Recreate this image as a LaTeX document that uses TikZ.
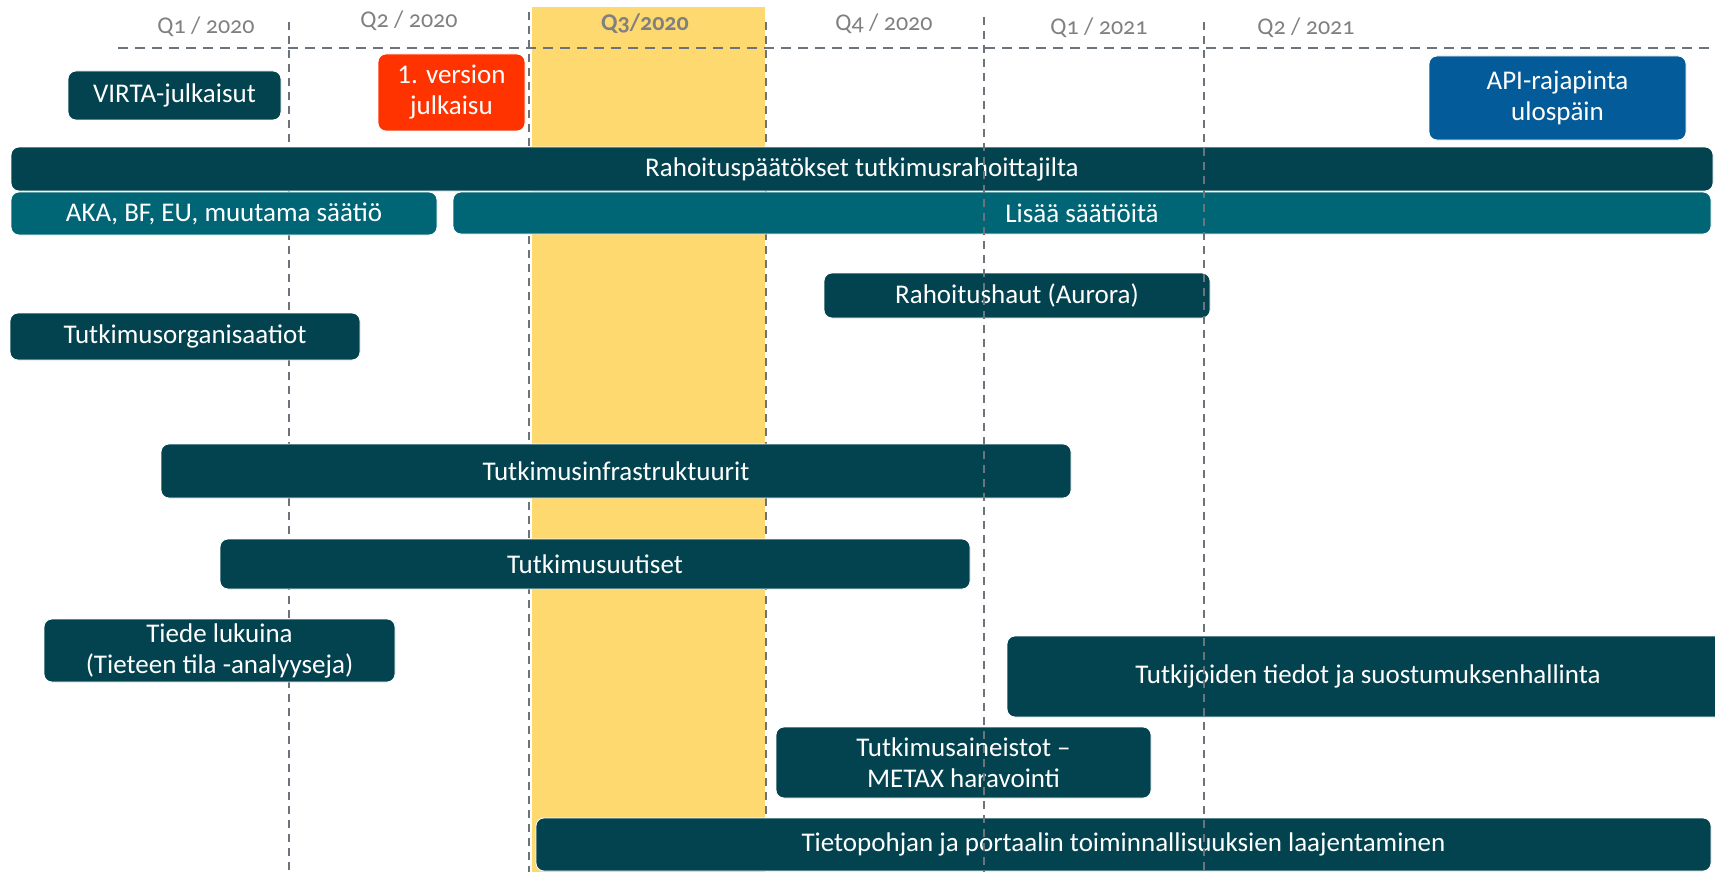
\documentclass[tikz,border=0pt]{standalone}
\usepackage{fontspec}
\setmainfont{Carlito}
\newfontfamily\qlabelfont[Numbers=OldStyle]{Carlito}
\newcommand\boxtxt{\fontsize{27}{31}\selectfont}
\newcommand\qtxt{\qlabelfont\fontsize{24}{28}\selectfont}
\definecolor{darkteal}{HTML}{02434F}
\definecolor{midteal}{HTML}{006676}
\definecolor{apiblue}{HTML}{045B99}
\definecolor{relred}{HTML}{FF3300}
\definecolor{bandyellow}{HTML}{FDD96F}
\definecolor{gridgray}{HTML}{6C737A}
\definecolor{qgray}{HTML}{808080}
\begin{document}
\begin{tikzpicture}[x=1pt,y=-1pt,
  bx/.style={rounded corners=8pt, draw=white, line width=0.8pt, text=white,
    font=\boxtxt, align=center, inner sep=0pt, anchor=center},
  vgrid/.style={draw=gridgray, line width=1.5pt, dash pattern=on 8pt off 6pt},
  hgrid/.style={draw=gridgray, line width=2.2pt, dash pattern=on 10pt off 7pt},
  qlab/.style={text=qgray, font=\qtxt, anchor=base, inner sep=0pt}]
\useasboundingbox (0,0) rectangle (1715,872);
\clip (0,0) rectangle (1715,872);
% highlight band
\fill[bandyellow] (532,7) rectangle (765,872);
% grid (behind boxes)
\draw[hgrid] (118,48) -- (1715,48);
\draw[vgrid] (289,22) -- (289,872);
\draw[vgrid] (529,12) -- (529,872);
\draw[vgrid] (766,22) -- (766,872);
% quarter labels
\node[qlab] (q1a) at (206,34) {Q1 / 2020};
\node[qlab] (q2a) at (409,28) {Q2 / 2020};
\node[qlab, font=\qtxt\bfseries] (q3a) at (645,31) {Q3/2020};
\node[qlab] (q4a) at (884,31) {Q4 / 2020};
\node[qlab] (q1b) at (1099,35) {Q1 / 2021};
\node[qlab] (q2b) at (1306,35) {Q2 / 2021};
% boxes
\node[bx, fill=darkteal, minimum width=213pt, minimum height=49pt] (virta) at (174.5,95.5) {VIRTA-julkaisut};
\node[bx, fill=relred, minimum width=147pt, minimum height=77pt] (versio) at (451.5,92.5) {1. version\\julkaisu};
\node[bx, fill=apiblue, minimum width=257pt, minimum height=84pt] (api) at (1557.5,98) {API-rajapinta\\ulospäin};
\node[bx, fill=darkteal, minimum width=1702pt, minimum height=44pt] (rahoitus) at (862,169) {Rahoituspäätökset tutkimusrahoittajilta};
\node[bx, fill=midteal, minimum width=426pt, minimum height=43pt] (aka) at (224,213.5) {AKA, BF, EU, muutama säätiö};
\node[bx, fill=midteal, minimum width=1258pt, minimum height=42pt] (lisaa) at (1082,213) {Lisää säätiöitä};
\node[bx, fill=darkteal, minimum width=386pt, minimum height=45pt] (haut) at (1017,295.5) {Rahoitushaut (Aurora)};
\node[bx, fill=darkteal, minimum width=350pt, minimum height=47pt] (org) at (185,336.5) {Tutkimusorganisaatiot};
\node[bx, fill=darkteal, minimum width=910pt, minimum height=54pt] (infra) at (616,471) {Tutkimusinfrastruktuurit};
\node[bx, fill=darkteal, minimum width=750pt, minimum height=50pt] (uutiset) at (595,564) {Tutkimusuutiset};
\node[bx, fill=darkteal, minimum width=351pt, minimum height=63pt] (tiede) at (219.5,650.5) {Tiede lukuina\\(Tieteen tila -analyyseja)};
\node[bx, fill=darkteal, minimum width=722pt, minimum height=81pt] (tutkijat) at (1368,676.5) {Tutkijoiden tiedot ja suostumuksenhallinta};
\node[bx, fill=darkteal, minimum width=375pt, minimum height=71pt] (metax) at (963.5,762.5) {Tutkimusaineistot –\\METAX haravointi};
\node[bx, fill=darkteal, minimum width=1175pt, minimum height=53pt] (tietopohja) at (1123.5,844.5) {Tietopohjan ja portaalin toiminnallisuuksien laajentaminen};
% grid (over boxes)
\draw[vgrid] (984,17) -- (984,872);
\draw[vgrid] (1204,22) -- (1204,872);
\end{tikzpicture}
\end{document}
